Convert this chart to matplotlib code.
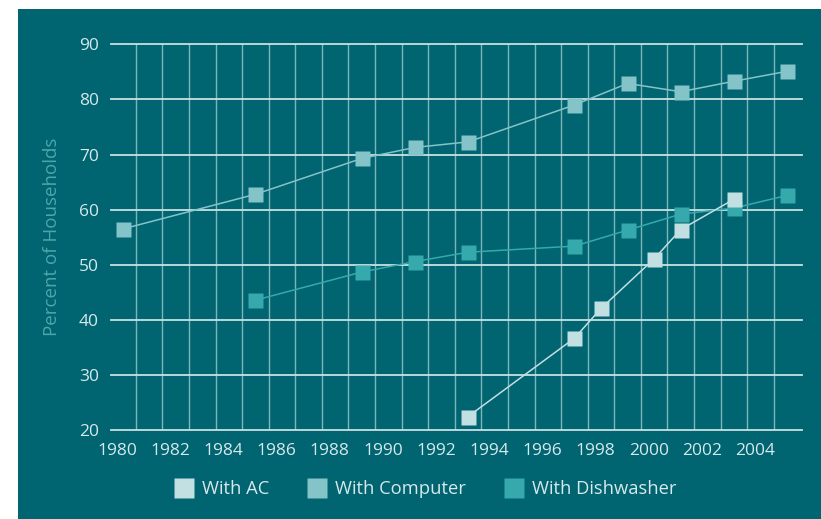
import matplotlib
matplotlib.use("Agg")
import matplotlib.pyplot as plt
from matplotlib.lines import Line2D
from matplotlib.patches import Rectangle
from matplotlib.ticker import FixedLocator
from matplotlib.transforms import ScaledTranslation

plt.rcParams['font.family'] = ['Open Sans', 'DejaVu Sans']

# Share of households owning each appliance (%)
computer_years = [1980, 1985, 1989, 1991, 1993, 1997, 1999, 2001, 2003, 2005]
computer_pct = [56.5, 62.8, 69.3, 71.3, 72.3, 79.0, 82.9, 81.4, 83.3, 85.1]

dishwasher_years = [1985, 1989, 1991, 1993, 1997, 1999, 2001, 2003, 2005]
dishwasher_pct = [43.6, 48.7, 50.6, 52.3, 53.4, 56.3, 59.2, 60.3, 62.6]

ac_years = [1993, 1997, 1998, 2000, 2001, 2003]
ac_pct = [22.5, 36.7, 42.1, 51.1, 56.4, 61.9]

year_labels = list(range(1980, 2005, 2))
y_ticks = [20, 30, 40, 50, 60, 70, 80, 90]

BG = '#006471'
TEXT = '#d6e9eb'
C_AC = '#c2dfe1'
C_COMP = '#84c4c8'
C_DISH = '#36a9ac'

W, H = 821, 519
fig = plt.figure(figsize=(W / 100, H / 100), dpi=100, facecolor='white')
panel = Rectangle((18 / W, 0), 1 - 18 / W, 1 - 9 / H,
                  transform=fig.transFigure, facecolor=BG,
                  edgecolor='none', zorder=-10)
fig.add_artist(panel)

ax = fig.add_axes([110.7 / W, 88.7 / H, 691.0 / W, 386.0 / H])
ax.set_facecolor(BG)

mk = 10.8
ax.plot(computer_years, computer_pct, color=C_COMP, lw=1.1, marker='s',
        ms=mk, mec='none', zorder=3)
ax.plot(dishwasher_years, dishwasher_pct, color=C_DISH, lw=1.1, marker='s',
        ms=mk, mec='none', zorder=3)
ax.plot(ac_years, ac_pct, color=C_AC, lw=1.1, marker='s',
        ms=mk, mec='none', zorder=4)

ax.set_xlim(1979.556, 2005.55)
ax.set_ylim(20, 90)
ax.xaxis.set_major_locator(FixedLocator(year_labels))
ax.xaxis.set_minor_locator(FixedLocator([y + 0.5 for y in range(1980, 2005)]))
ax.yaxis.set_major_locator(FixedLocator(y_ticks))

ax.grid(False)
ax.xaxis.grid(True, which='minor', color='#7cb6b9', lw=1.0)
ax.yaxis.grid(True, which='major', color='#c9e1e3', lw=1.3)
ax.set_axisbelow(True)
for gl in ax.get_ygridlines():
    gl.set_clip_on(False)

for s in ax.spines.values():
    s.set_visible(False)

ax.tick_params(axis='both', which='both', length=0, colors=TEXT,
               labelsize=12.5)
ax.tick_params(axis='x', pad=9.5)
ax.tick_params(axis='y', pad=8.5)
shift = ScaledTranslation(-5.5 / 100, 0, fig.dpi_scale_trans)
for lab in ax.get_xticklabels():
    lab.set_transform(lab.get_transform() + shift)

ax.set_ylabel('Percent of Households', color='#4ea6ab', fontsize=13.5,
              labelpad=13)

handles = [
    Line2D([], [], ls='none', marker='s', ms=13.7, color=C_AC, mec='none'),
    Line2D([], [], ls='none', marker='s', ms=13.7, color=C_COMP, mec='none'),
    Line2D([], [], ls='none', marker='s', ms=13.7, color=C_DISH, mec='none'),
]
fig.legend(handles, ['With AC', 'With Computer', 'With Dishwasher'],
           loc='center', bbox_to_anchor=(425.5 / W, 30 / H), ncol=3,
           frameon=False, fontsize=13.2, labelcolor=TEXT,
           handlelength=1.05, handletextpad=0.45, columnspacing=2.1)

fig.savefig('out.png', dpi=100, facecolor=fig.get_facecolor())
